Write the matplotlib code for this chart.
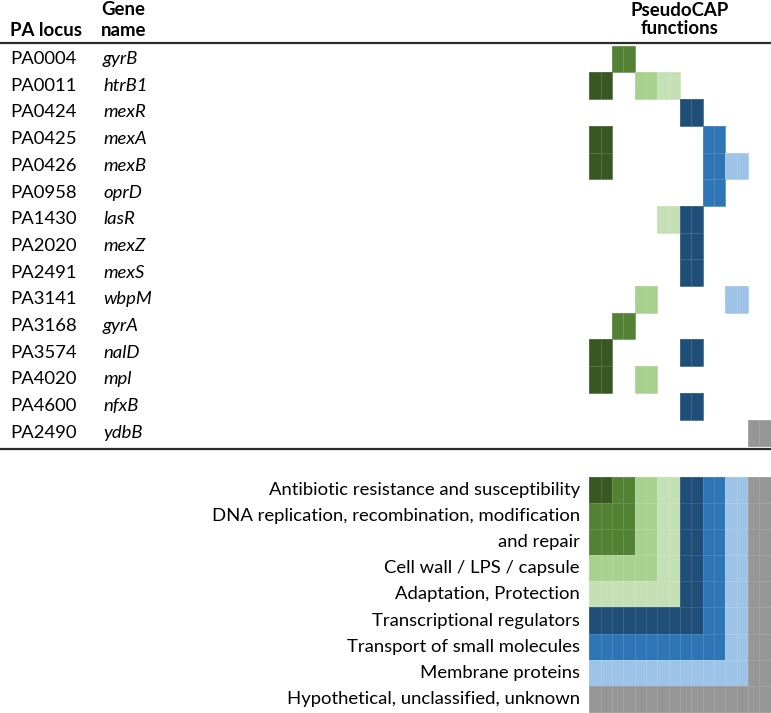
import numpy as np
import matplotlib
matplotlib.use("Agg")
import matplotlib.pyplot as plt
from matplotlib.colors import ListedColormap, BoundaryNorm

plt.rcParams['font.family'] = ['Lato', 'DejaVu Sans']

# ---------------- data ----------------
loci = ["PA0004", "PA0011", "PA0424", "PA0425", "PA0426", "PA0958", "PA1430",
        "PA2020", "PA2491", "PA3141", "PA3168", "PA3574", "PA4020", "PA4600", "PA2490"]
genes = ["gyrB", "htrB1", "mexR", "mexA", "mexB", "oprD", "lasR",
         "mexZ", "mexS", "wbpM", "gyrA", "nalD", "mpl", "nfxB", "ydbB"]
# PseudoCAP function categories (column index) assigned to each gene
functions = [[1], [0, 2, 3], [4], [0, 5], [0, 5, 6], [5], [3, 4],
             [4], [4], [2, 6], [1], [0, 4], [0, 2], [4], [7]]
categories = ["Antibiotic resistance and susceptibility",
              "DNA replication, recombination, modification",
              "Cell wall / LPS / capsule",
              "Adaptation, Protection",
              "Transcriptional regulators",
              "Transport of small molecules",
              "Membrane proteins",
              "Hypothetical, unclassified, unknown"]
legend_labels = ["Antibiotic resistance and susceptibility",
                 "DNA replication, recombination, modification",
                 "and repair",
                 "Cell wall / LPS / capsule",
                 "Adaptation, Protection",
                 "Transcriptional regulators",
                 "Transport of small molecules",
                 "Membrane proteins",
                 "Hypothetical, unclassified, unknown"]
legend_rowcat = [0, 1, 1, 2, 3, 4, 5, 6, 7]
colors = ["#385723", "#548235", "#a9d18e", "#c5e0b4",
          "#1f4e79", "#2e75b6", "#9dc3e6", "#969696"]

# ---------------- figure ----------------
W, H = 771, 713
fig = plt.figure(figsize=(W / 100, H / 100), dpi=100)
ax = fig.add_axes([0, 0, 1, 1])
ax.set_xlim(0, W)
ax.set_ylim(H, 0)
ax.axis("off")

cmap = ListedColormap(colors)
norm = BoundaryNorm(np.arange(len(colors) + 1) - 0.5, len(colors))

ncat = len(categories)
x0, colw = 589.3, 22.68
y0, rowh = 45.7, 26.7
fs = 13.3
fsb = 13.4

# matrix (each column split into two sub-cells, as in the source)
nrow = len(loci)
M = np.full((nrow, ncat), np.nan)
for i, fl in enumerate(functions):
    for c in fl:
        M[i, c] = c
M2 = np.repeat(M, 2, axis=1)
Xe = x0 + colw / 2 * np.arange(2 * ncat + 1)
Ye = y0 + rowh * np.arange(nrow + 1)
ax.pcolormesh(Xe, Ye, np.ma.masked_invalid(M2), cmap=cmap, norm=norm,
              edgecolors=(1, 1, 1, 0.15), linewidth=0.6)

# table text
for i, (l, g) in enumerate(zip(loci, genes)):
    yc = y0 + rowh * (i + 0.5)
    ax.text(10, yc, l, fontsize=fs, va="center", ha="left", color="#000")
    ax.text(103, yc, g, fontsize=fs, va="center", ha="left", style="italic", color="#000")

# headers
ax.text(10, 36, "PA locus", fontsize=fsb, fontweight="bold", va="baseline", ha="left", color="#000")
ax.text(101, 15, "Gene", fontsize=fsb, fontweight="bold", va="baseline", ha="left", color="#000")
ax.text(101, 36, "name", fontsize=fsb, fontweight="bold", va="baseline", ha="left", color="#000")
ax.text(680, 16, "PseudoCAP", fontsize=fsb, fontweight="bold", va="baseline", ha="center", color="#000")
ax.text(680, 34, "functions", fontsize=fsb, fontweight="bold", va="baseline", ha="center", color="#000")

# rules
ax.plot([0, W], [43.3, 43.3], color="#2b2b2b", lw=1.6, solid_capstyle="butt")
ax.plot([0, W], [449.3, 449.3], color="#2b2b2b", lw=1.6, solid_capstyle="butt")

# legend staircase
ly0, lrowh = 476.7, 26.15
L = np.array([[max(rc, c) for c in range(ncat)] for rc in legend_rowcat], dtype=float)
L2 = np.repeat(L, 2, axis=1)
LYe = ly0 + lrowh * np.arange(len(legend_rowcat) + 1)
ax.pcolormesh(Xe, LYe, L2, cmap=cmap, norm=norm,
              edgecolors=(1, 1, 1, 0.12), linewidth=0.6)
for j, lab in enumerate(legend_labels):
    yc = ly0 + lrowh * (j + 0.5)
    ax.text(580, yc, lab, fontsize=fs, va="center", ha="right", color="#000")

fig.savefig("out.png", dpi=100)
